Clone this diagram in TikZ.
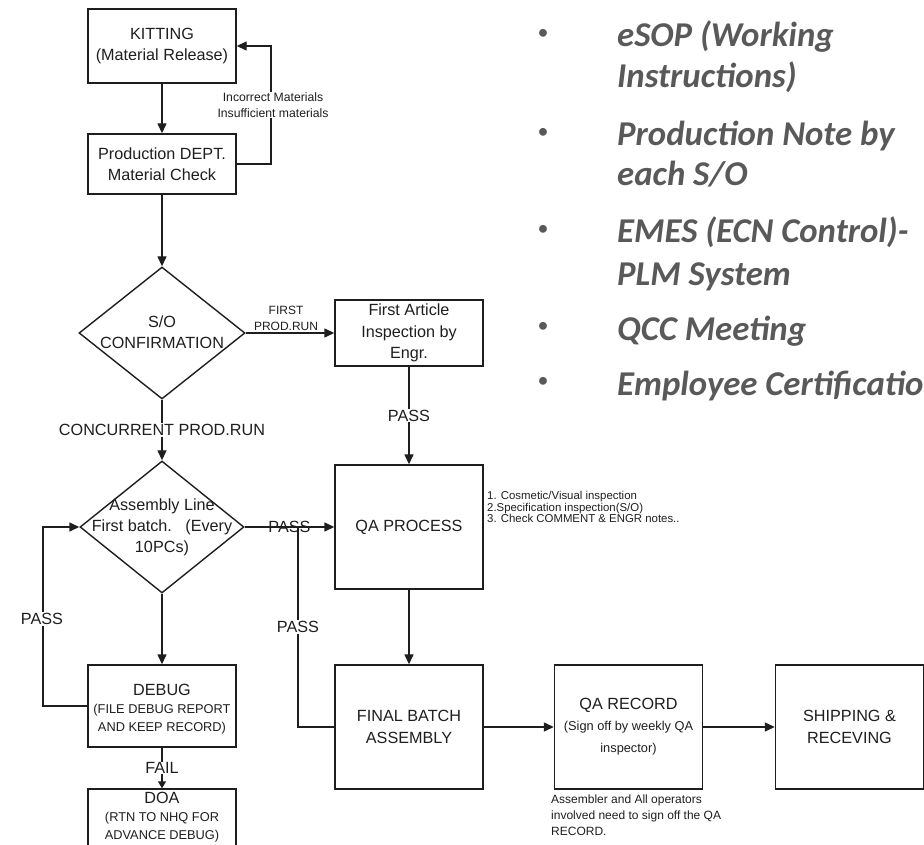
\documentclass[tikz,border=0pt]{standalone}
\usepackage{fontspec}
\setmainfont{Liberation Sans}
\newfontfamily\calib{Carlito}
\usetikzlibrary{shapes.geometric,arrows.meta}
\definecolor{ink}{HTML}{1E1E1E}
\definecolor{bulgray}{HTML}{595959}
\newcommand{\smf}{\fontsize{12.8}{15}\selectfont}
\begin{document}
\begin{tikzpicture}[x=1pt,y=-1pt,
  box/.style={draw=ink, line width=1.4pt, minimum width=148pt, inner sep=0pt, align=center, text=ink, font=\fontsize{16.2}{21.5}\selectfont},
  dia/.style={draw=ink, line width=1.4pt, diamond, inner sep=0pt},
  txt/.style={align=center, text=ink, inner sep=1pt, font=\fontsize{16.2}{21}\selectfont},
  smlbl/.style={align=center, text=ink, inner sep=1pt, font=\fontsize{12}{15.5}\selectfont},
  note/.style={align=left, text=ink, inner sep=0pt, font=\fontsize{11.4}{11.8}\selectfont},
  note2/.style={align=left, text=ink, inner sep=0pt, font=\fontsize{12}{16}\selectfont},
  ln/.style={draw=ink, line width=1.4pt},
  tri/.tip={Triangle[length=10pt,width=9pt]},
  bul/.style={text=bulgray, inner sep=0pt, font=\calib\fontsize{22}{22}\selectfont},
  itm/.style={text=bulgray, inner sep=0pt, anchor=base west, font=\calib\bfseries\itshape\fontsize{34.8}{41}\selectfont}
]
\useasboundingbox (0,0) rectangle (924,845);

% boxes
\node[box, minimum height=74pt] (kit) at (162,46) {KITTING\\(Material Release)};
\node[box, minimum height=60pt] (prod) at (162,164) {Production DEPT.\\Material Check};
\node[dia, minimum width=166pt, minimum height=132pt] (so) at (162,333) {};
\node[txt] (sot) at (162,332) {S/O\\CONFIRMATION};
\node[box, minimum height=66pt] (fa) at (409,333) {First Article\\Inspection by\\Engr.};
\node[box, minimum height=124pt] (qa) at (409,527) {QA PROCESS};
\node[dia, minimum width=164pt, minimum height=132pt] (asm) at (162,527) {};
\node[txt] (asmt) at (162,527) {Assembly Line\\First batch.\ \ \ (Every\\10PCs)};
\node[box, minimum height=82pt] (dbg) at (162,706) {};
\node[txt, text depth=0pt] (dbgt) at (162,708) {DEBUG\\[-3pt] \smf (FILE DEBUG REPORT\\[-3pt] \smf AND KEEP RECORD)};
\node[box, minimum height=62pt] (doa) at (162,820) {};
\node[txt] (doat) at (162,817) {DOA\\[-3pt] \smf (RTN TO NHQ FOR\\[-3pt] \smf ADVANCE DEBUG)};
\node[box, minimum height=124pt] (fb) at (409,727) {FINAL BATCH\\ASSEMBLY};
\node[box, minimum height=124pt] (qar) at (628.5,727) {QA RECORD\\[-1pt] \smf (Sign off by weekly QA\\[1pt] \smf inspector)};
\node[box, minimum height=124pt] (ship) at (849.5,727) {SHIPPING \&\\RECEVING};

% connectors
\draw[ln,-tri] (kit) -- (prod);
\coordinate (fbx) at (271,105);
\draw[ln,-tri] (prod.east) -| (fbx) |- (kit.east);
\node[smlbl, fill=white, font=\fontsize{12.2}{15.5}\selectfont] (fbl) at (273,105) {Incorrect Materials\\Insufficient materials};
\draw[ln,-tri] (prod) -- (so);
\draw[ln,-tri] (so.east) -- node[above=1pt, smlbl, xshift=-4pt] (fpr) {FIRST\\PROD.RUN} (fa.west);
\draw[ln,-tri] (fa) -- node[txt, fill=white] (p1) {PASS} (qa);
\draw[ln,-tri] (so) -- node[txt, fill=white] (cpr) {CONCURRENT PROD.RUN} (asm);
\draw[ln,-tri] (asm.east) -- node[txt] (p2) {PASS} (qa.west);
\coordinate (br) at (298,527);
\draw[ln] (br) |- node[pos=0.25, txt, fill=white] (p3) {PASS} (fb.west);
\draw[ln,-tri] (qa) -- (fb);
\draw[ln,-tri] (asm) -- (dbg);
\coordinate (lx) at (43,617);
\draw[ln,-tri] (dbg.west) -| (lx) |- (asm.west);
\node[txt, fill=white] (p4) at (42,619) {PASS};
\draw[ln,-{Triangle[length=7pt,width=8pt]}] (dbg) -- node[txt, fill=white, inner sep=0pt] (fail) {FAIL} (doa);
\draw[ln,-tri] (fb) -- (qar);
\draw[ln,-tri] (qar) -- (ship);

% notes
\node[note, anchor=west] (qan) at (487,507) {1. Cosmetic/Visual inspection\\2.Specification inspection(S/O)\\3. Check COMMENT \& ENGR notes..};
\node[note2, anchor=north west] (qrn) at (551,795) {Assembler and All operators\\involved need to sign off the QA\\RECORD.};

% bullet list
\node[bul] (b1) at (543,34) {•};
\node[bul] (b2) at (543,133) {•};
\node[bul] (b3) at (543,230) {•};
\node[bul] (b4) at (543,327) {•};
\node[bul] (b5) at (543,382) {•};
\node[itm] (i1a) at (617,47) {eSOP (Working};
\node[itm] (i1b) at (617,88) {Instructions)};
\node[itm] (i2a) at (617,146) {Production Note by};
\node[itm] (i2b) at (617,186) {each S/O};
\node[itm] (i3a) at (617,243) {EMES (ECN Control)-};
\node[itm] (i3b) at (617,285) {PLM System};
\node[itm] (i4a) at (617,340) {QCC Meeting};
\node[itm] (i5a) at (617,395) {Employee Certification};
\end{tikzpicture}
\end{document}
